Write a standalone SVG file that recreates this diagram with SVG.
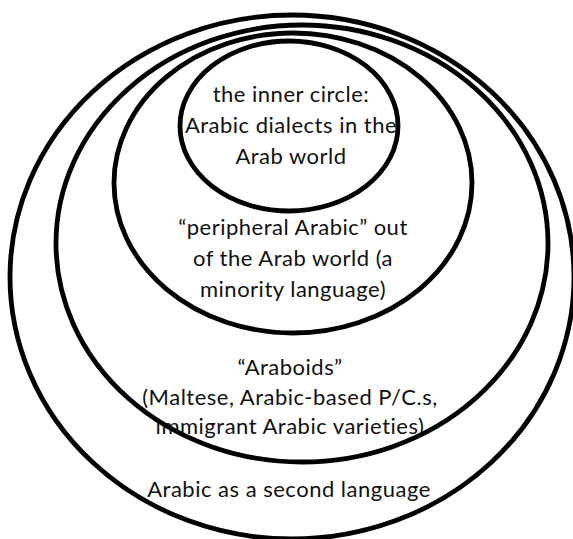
<svg xmlns="http://www.w3.org/2000/svg" width="573" height="539" viewBox="0 0 573 539">
<style>
.ring{fill:none;stroke:#000;stroke-width:4.8}
.lbl{font-family:Lato,"Noto Sans",sans-serif;font-size:22px;letter-spacing:0.5px;fill:#111;text-anchor:middle}
</style>
<rect width="573" height="539" fill="#fff"/>
<g id="connectors"/>
<g id="second-language">
<ellipse class="ring" cx="292" cy="277" rx="282" ry="262"/>
<text class="lbl" x="289" y="497">Arabic as a second language</text>
</g>
<g id="araboids">
<ellipse class="ring" cx="302" cy="243.5" rx="246" ry="218.5"/>
<text class="lbl" x="290" y="375">“Araboids”</text>
<text class="lbl" x="290" y="405">(Maltese, Arabic-based P/C.s,</text>
<text class="lbl" x="290" y="434">immigrant Arabic varieties)</text>
</g>
<g id="peripheral">
<ellipse class="ring" cx="293" cy="183" rx="179" ry="150"/>
<text class="lbl" x="293" y="235">“peripheral Arabic” out</text>
<text class="lbl" x="293" y="266">of the Arab world (a</text>
<text class="lbl" x="293" y="297">minority language)</text>
</g>
<g id="inner-circle">
<ellipse class="ring" cx="289" cy="126" rx="109" ry="85"/>
<text class="lbl" x="291" y="102">the inner circle:</text>
<text class="lbl" x="291" y="133">Arabic dialects in the</text>
<text class="lbl" x="291" y="164">Arab world</text>
</g>
</svg>
